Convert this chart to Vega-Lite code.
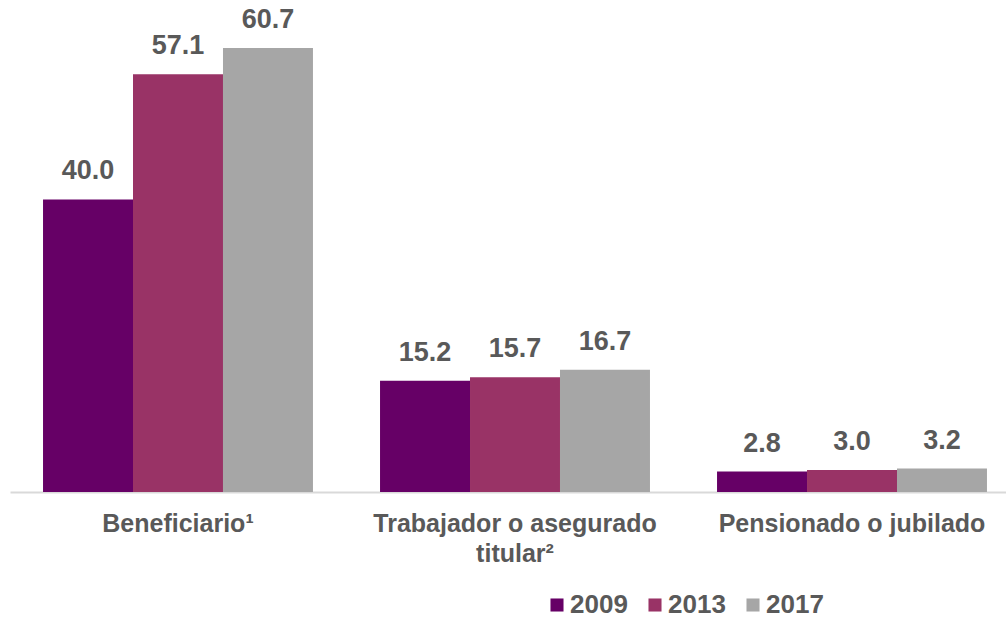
{
  "$schema": "https://vega.github.io/schema/vega-lite/v6.json",
  "width": 1010,
  "height": 492,
  "padding": {"left": 10, "top": 0, "right": 0, "bottom": 0},
  "autosize": {"type": "pad"},
  "background": "white",
  "data": {
    "values": [
      {"cat": "Beneficiario¹", "year": "2009", "value": 40.0},
      {"cat": "Beneficiario¹", "year": "2013", "value": 57.1},
      {"cat": "Beneficiario¹", "year": "2017", "value": 60.7},
      {"cat": "Trabajador o asegurado titular²", "year": "2009", "value": 15.2},
      {"cat": "Trabajador o asegurado titular²", "year": "2013", "value": 15.7},
      {"cat": "Trabajador o asegurado titular²", "year": "2017", "value": 16.7},
      {"cat": "Pensionado o jubilado", "year": "2009", "value": 2.8},
      {"cat": "Pensionado o jubilado", "year": "2013", "value": 3.0},
      {"cat": "Pensionado o jubilado", "year": "2017", "value": 3.2}
    ]
  },
  "encoding": {
    "x": {
      "field": "cat",
      "type": "nominal",
      "sort": null,
      "title": null,
      "scale": {"paddingInner": 0.199, "paddingOuter": 0.098},
      "axis": {
        "labelAngle": 0,
        "labelFont": "Liberation Sans",
        "labelFontWeight": "bold",
        "labelFontSize": 25,
        "labelColor": "#595959",
        "labelPadding": 19,
        "labelLimit": 500,
        "labelLineHeight": 30,
        "labelBaseline": "top",
        "labelExpr": "datum.label == 'Trabajador o asegurado titular²' ? ['Trabajador o asegurado', 'titular²'] : datum.label",
        "ticks": false,
        "domainColor": "#d9d9d9",
        "domainWidth": 2,
        "grid": false
      }
    },
    "xOffset": {"field": "year", "type": "nominal", "scale": {"paddingInner": 0, "paddingOuter": 0}},
    "y": {
      "field": "value",
      "type": "quantitative",
      "scale": {"domain": [0, 67.26], "nice": false},
      "axis": null
    }
  },
  "layer": [
    {
      "mark": {"type": "bar"},
      "encoding": {
        "color": {
          "field": "year",
          "type": "nominal",
          "scale": {"domain": ["2009", "2013", "2017"], "range": ["#660066", "#993366", "#a6a6a6"]},
          "legend": {
            "title": null,
            "orient": "none",
            "direction": "horizontal",
            "legendX": 534,
            "legendY": 592,
            "padding": 0,
            "symbolType": "square",
            "symbolSize": 170,
            "symbolStrokeWidth": 0,
            "labelFont": "Liberation Sans",
            "labelFontWeight": "bold",
            "labelFontSize": 26,
            "labelColor": "#595959",
            "labelOffset": 0,
            "columnPadding": 14
          }
        }
      }
    },
    {
      "mark": {
        "type": "text",
        "dy": -14,
        "baseline": "bottom",
        "font": "Liberation Sans",
        "fontWeight": "bold",
        "fontSize": 27,
        "color": "#595959"
      },
      "encoding": {
        "text": {"field": "value", "type": "quantitative", "format": ".1f"}
      }
    }
  ],
  "config": {"view": {"stroke": null}}
}
